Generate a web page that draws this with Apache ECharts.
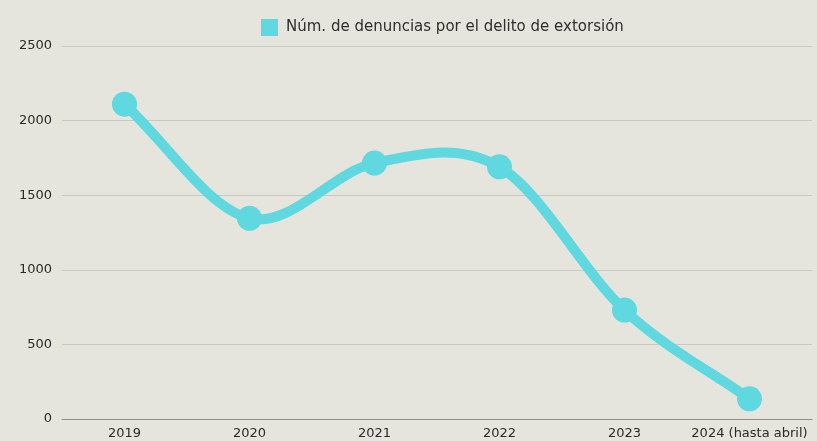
<!DOCTYPE html>
<html>
<head>
<meta charset="utf-8">
<script src="https://cdn.jsdelivr.net/npm/echarts@6/dist/echarts.min.js"></script>
<style>
  html, body { margin: 0; padding: 0; background: #e5e5de; }
  #chart { width: 817px; height: 441px; }
</style>
</head>
<body>
<div id="chart"></div>
<script>
const categories = ['2019', '2020', '2021', '2022', '2023', '2024 (hasta abril)'];
const denuncias = [2110, 1345, 1715, 1690, 730, 135];
const yTicks = [0, 500, 1000, 1500, 2000, 2500];
const seriesName = 'Núm. de denuncias por el delito de extorsión';

const LINE_COLOR = '#5fd8df';
const FONT = '"DejaVu Sans", Inter, sans-serif';

// Catmull-Rom curve through the points, one bezier segment per custom item
function renderSegment(params, api) {
  const i = params.dataIndex;
  const n = denuncias.length;
  if (i >= n - 1) return null;
  const pt = k => api.coord([k, denuncias[k]]);
  const p1 = pt(i), p2 = pt(i + 1);
  const p0 = i > 0 ? pt(i - 1) : [2 * p1[0] - p2[0], 2 * p1[1] - p2[1]];
  const p3 = i + 2 < n ? pt(i + 2) : [2 * p2[0] - p1[0], 2 * p2[1] - p1[1]];
  const t = 6;
  return {
    type: 'bezierCurve',
    shape: {
      x1: p1[0], y1: p1[1],
      cpx1: p1[0] + (p2[0] - p0[0]) / t, cpy1: p1[1] + (p2[1] - p0[1]) / t,
      cpx2: p2[0] - (p3[0] - p1[0]) / t, cpy2: p2[1] - (p3[1] - p1[1]) / t,
      x2: p2[0], y2: p2[1]
    },
    style: { stroke: LINE_COLOR, lineWidth: 10, fill: null, lineCap: 'round' }
  };
}

const chart = echarts.init(document.getElementById('chart'));
chart.setOption({
  backgroundColor: '#e5e5de',
  textStyle: { fontFamily: FONT },
  legend: {
    top: 14,
    left: 256,
    itemWidth: 17,
    itemHeight: 17,
    icon: 'rect',
    textStyle: { color: '#2e2e2e', fontSize: 15, fontFamily: FONT, padding: [0, 0, 0, 3] },
    data: [seriesName]
  },
  grid: { left: 62, right: 5, top: 46, bottom: 22 },
  xAxis: {
    type: 'category',
    data: categories,
    boundaryGap: true,
    axisLine: { lineStyle: { color: '#8f8f8a', width: 1 } },
    axisTick: { show: false },
    axisLabel: { color: '#2a2a2a', fontSize: 13, margin: 8, interval: 0 }
  },
  yAxis: {
    type: 'value',
    min: yTicks[0],
    max: yTicks[yTicks.length - 1],
    interval: yTicks[1] - yTicks[0],
    axisLine: { show: false },
    axisTick: { show: false },
    splitLine: { lineStyle: { color: '#c9c9c2', width: 1 } },
    axisLabel: { color: '#2a2a2a', fontSize: 13, margin: 10, formatter: v => String(v) }
  },
  series: [
    {
      type: 'custom',
      renderItem: renderSegment,
      data: denuncias.map((v, i) => [i, v]),
      z: 2,
      silent: true
    },
    {
      name: seriesName,
      type: 'line',
      data: denuncias,
      symbol: 'circle',
      symbolSize: 25,
      lineStyle: { color: LINE_COLOR, width: 0 },
      itemStyle: { color: LINE_COLOR },
      emphasis: { disabled: true },
      z: 3
    }
  ]
});
</script>
</body>
</html>
